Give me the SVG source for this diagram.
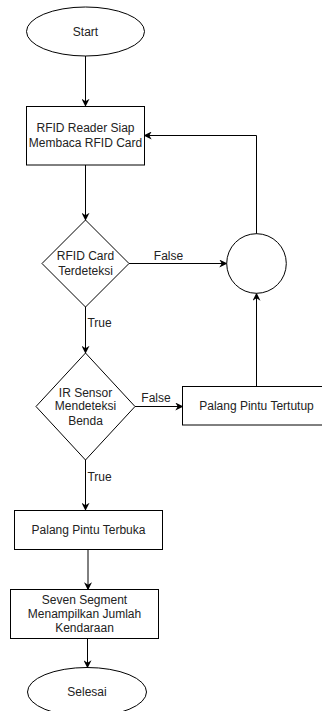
<svg xmlns="http://www.w3.org/2000/svg" width="322" height="711" viewBox="0 0 322 711">
  <style>
    .shape { fill: #ffffff; stroke: #000000; stroke-width: 1; }
    .label { font-family: "Liberation Sans", Arial, sans-serif; font-size: 12px; fill: #222222; text-anchor: middle; }
    .edge { fill: none; stroke: #000000; stroke-width: 1; }
  </style>
  <defs>
    <marker id="arrow" viewBox="0 0 10 10" refX="9" refY="5" markerWidth="8" markerHeight="8" markerUnits="userSpaceOnUse" orient="auto">
      <path d="M0,0 L10,5 L0,10 L3,5 Z" fill="#000000"/>
    </marker>
  </defs>
  <rect width="322" height="711" fill="#ffffff"/>

  <g id="connectors">
    <path class="edge" d="M85.5,56 L85.5,106" marker-end="url(#arrow)"/>
    <path class="edge" d="M85.5,165 L85.5,220" marker-end="url(#arrow)"/>
    <path class="edge" d="M129,263.5 L226.5,263.5" marker-end="url(#arrow)"/>
    <path class="edge" d="M256.5,234 L256.5,135.5 L144.5,135.5" marker-end="url(#arrow)"/>
    <path class="edge" d="M85.5,307 L85.5,353" marker-end="url(#arrow)"/>
    <path class="edge" d="M135,406.5 L182.5,406.5" marker-end="url(#arrow)"/>
    <path class="edge" d="M256.5,386 L256.5,293.5" marker-end="url(#arrow)"/>
    <path class="edge" d="M85.5,460 L85.5,510" marker-end="url(#arrow)"/>
    <path class="edge" d="M88,549.5 L88,589.5" marker-end="url(#arrow)"/>
    <path class="edge" d="M87.5,638.5 L87.5,667.5" marker-end="url(#arrow)"/>
    <text class="label" x="168.5" y="260">False</text>
    <text class="label" x="99.5" y="327">True</text>
    <text class="label" x="156" y="402">False</text>
    <text class="label" x="99.5" y="481">True</text>
  </g>

  <g id="start">
    <ellipse class="shape" cx="85.5" cy="31.5" rx="59" ry="24.5"/>
    <text class="label" x="85.5" y="35.5">Start</text>
  </g>

  <g id="rfid-ready">
    <rect class="shape" x="26.5" y="106.5" width="118" height="58.5"/>
    <text class="label" x="85.5" y="132">RFID Reader Siap</text>
    <text class="label" x="85.5" y="147">Membaca RFID Card</text>
  </g>

  <g id="rfid-detected">
    <path class="shape" d="M85.5,220 L129,263.5 L85.5,307 L42,263.5 Z"/>
    <text class="label" x="85.5" y="260">RFID Card</text>
    <text class="label" x="85.5" y="275">Terdeteksi</text>
  </g>

  <g id="junction">
    <circle class="shape" cx="256.5" cy="263.5" r="29.8"/>
  </g>

  <g id="ir-sensor">
    <path class="shape" d="M85.5,353 L135,406.5 L85.5,460 L36,406.5 Z"/>
    <text class="label" x="85.5" y="397">IR Sensor</text>
    <text class="label" x="85.5" y="410">Mendeteksi</text>
    <text class="label" x="85.5" y="425">Benda</text>
  </g>

  <g id="gate-closed">
    <rect class="shape" x="182.5" y="386.5" width="148" height="38.5"/>
    <text class="label" x="256.5" y="409.5">Palang Pintu Tertutup</text>
  </g>

  <g id="gate-open">
    <rect class="shape" x="14.5" y="510.5" width="148" height="39"/>
    <text class="label" x="88.5" y="533.5">Palang Pintu Terbuka</text>
  </g>

  <g id="seven-segment">
    <rect class="shape" x="10.5" y="589.5" width="148" height="49"/>
    <text class="label" x="84.5" y="603.5">Seven Segment</text>
    <text class="label" x="84.5" y="617.5">Menampilkan Jumlah</text>
    <text class="label" x="84.5" y="632">Kendaraan</text>
  </g>

  <g id="finish">
    <ellipse class="shape" cx="87" cy="692" rx="59.5" ry="24.5"/>
    <text class="label" x="87" y="696">Selesai</text>
  </g>
</svg>
